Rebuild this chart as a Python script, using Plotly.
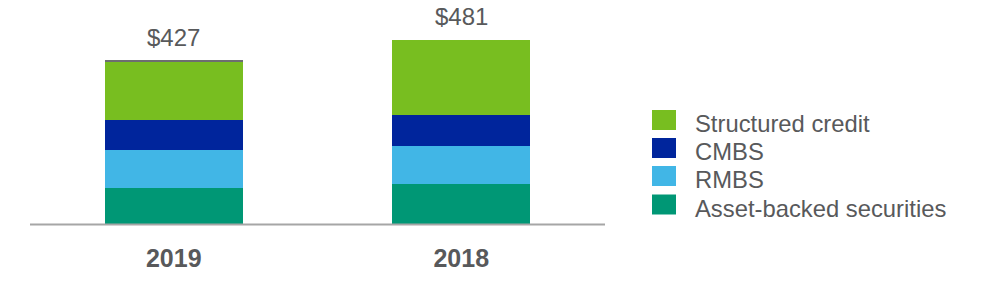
import plotly.graph_objects as go

# ---- data ----
categories = ["2019", "2018"]
asset_backed = [94, 105]
rmbs = [100, 100]
cmbs = [79, 79]
structured_credit = [151, 197]
other = [3, 0]
totals = [427, 481]
total_labels = ["$427", "$481"]

series_names = ["Asset-backed securities", "RMBS", "CMBS", "Structured credit"]
series_values = [asset_backed, rmbs, cmbs, structured_credit]
series_colors = ["#009775", "#41B6E6", "#00259C", "#78BE20"]

TEXT = "#58595B"
FONT = "Liberation Sans, Arial, sans-serif"

W, H = 1000, 300
L, R, T, B = 30, 395, 0, 76
plot_w = W - L - R
plot_h = H - T - B

fig = go.Figure()
for name, vals, col in zip(series_names, series_values, series_colors):
    fig.add_trace(go.Bar(x=categories, y=vals, name=name, marker_color=col,
                         marker_line_width=0, showlegend=False, hoverinfo="skip"))
fig.add_trace(go.Bar(x=categories, y=other, name="Other", marker_color="#6D6E71",
                     marker_line_width=0, showlegend=False, hoverinfo="skip"))

annotations = []
for i, (t, lab) in enumerate(zip(totals, total_labels)):
    annotations.append(dict(x=i, y=t, text=lab, showarrow=False, xref="x", yref="y",
                            yanchor="bottom", yshift=8,
                            font=dict(family=FONT, size=24, color=TEXT)))

# manual legend (pixel layout converted to paper coords)
def px_x(px):
    return (px - L) / plot_w

def px_y(py):
    return (H - B - py) / plot_h

shapes = []
row_centers = [120, 148, 176, 204.5]
legend_order = list(zip(series_names, series_colors))[::-1]
for (name, col), cy in zip(legend_order, row_centers):
    shapes.append(dict(type="rect", xref="paper", yref="paper",
                       x0=px_x(652), x1=px_x(676), y0=px_y(cy + 10), y1=px_y(cy - 10),
                       fillcolor=col, line_width=0))
    annotations.append(dict(x=px_x(693), y=px_y(cy + 3.5), xref="paper", yref="paper",
                            text=name, showarrow=False, xanchor="left", yanchor="middle",
                            font=dict(family=FONT, size=23.8, color=TEXT)))

shapes.append(dict(type="line", xref="paper", yref="paper", x0=0, x1=1, y0=px_y(224.5), y1=px_y(224.5),
                   line=dict(color="#A6A6A6", width=2)))

fig.update_layout(
    width=W, height=H,
    margin=dict(l=L, r=R, t=T, b=B, pad=0),
    barmode="stack", bargap=0.52,
    plot_bgcolor="white", paper_bgcolor="white",
    showlegend=False,
    xaxis=dict(type="category", range=[-0.5, 1.5], showgrid=False, showline=False,
               zeroline=False, ticks="",
               tickfont=dict(family=FONT, size=25, color=TEXT, weight="bold"),
               ticklabelstandoff=17),
    yaxis=dict(visible=False, range=[0, 586], showgrid=False, zeroline=False),
    annotations=annotations,
    shapes=shapes,
)

fig.write_html("out.html")
